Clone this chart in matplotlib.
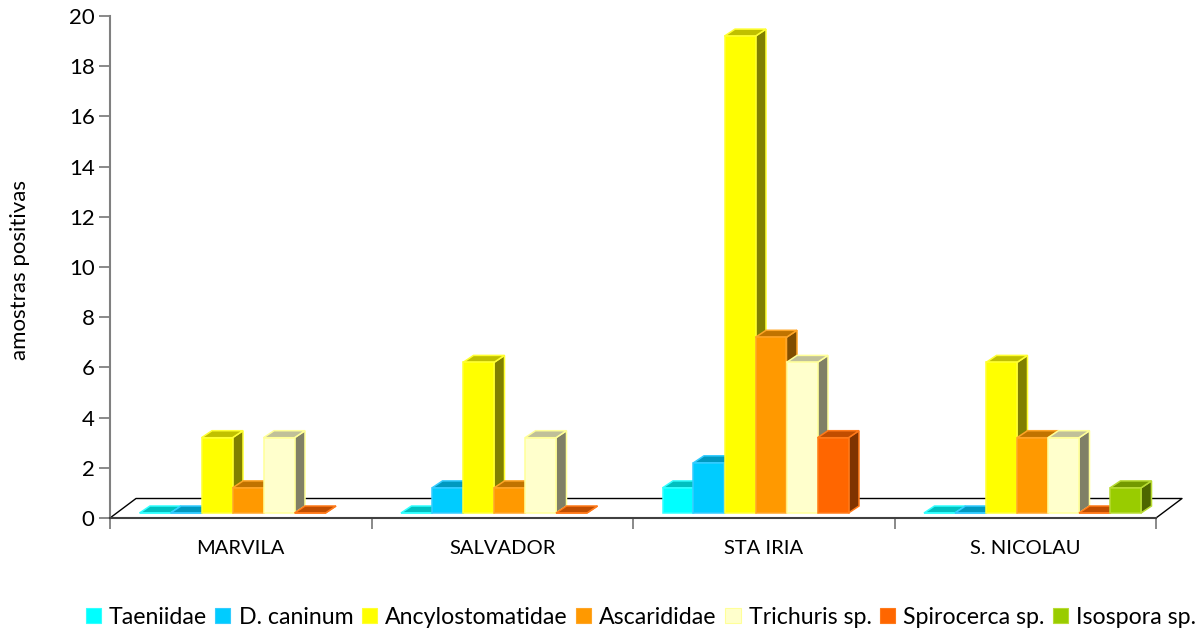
import numpy as np
import matplotlib
matplotlib.use("Agg")
import matplotlib.pyplot as plt
from matplotlib.patches import Polygon, Patch

plt.rcParams['font.family'] = ['Lato', 'DejaVu Sans']

sites = ["MARVILA", "SALVADOR", "STA IRIA", "S. NICOLAU"]
taxa = ["Taeniidae", "D. caninum", "Ancylostomatidae", "Ascarididae",
        "Trichuris sp.", "Spirocerca sp.", "Isospora sp."]
taeniidae = [0, 0, 1, 0]
d_caninum = [0, 1, 2, 0]
ancylostomatidae = [3, 6, 19, 6]
ascarididae = [1, 1, 7, 3]
trichuris = [3, 3, 6, 3]
spirocerca = [0, 0, 3, 0]
isospora = [np.nan, np.nan, np.nan, 1]
series = [taeniidae, d_caninum, ancylostomatidae, ascarididae,
          trichuris, spirocerca, isospora]
y_ticks = list(range(0, 21, 2))

front = ["#00FFFF", "#00CCFF", "#FFFF00", "#FF9900", "#FFFFCC", "#FF6600", "#99CC00"]
top = ["#00C0C0", "#0099C0", "#C0C000", "#C07300", "#C0C099", "#C04D00", "#739900"]
side = ["#008080", "#006680", "#808000", "#804D00", "#808066", "#803300", "#4D6600"]
edge = ["#33FFFF", "#33CCFF", "#FFFF33", "#FFA526", "#FFFF99", "#FF7A1A", "#B8DB33"]

W, H = 1203, 634
L, R, T, B = 110, 1156, 16, 518
fig = plt.figure(figsize=(W / 100, H / 100), dpi=100, facecolor="white")
ax = fig.add_axes([L / W, 1 - B / H, (R - L) / W, (B - T) / H])
ax.set_xlim(0, 4)
ax.set_ylim(0, 20)
ax.patch.set_visible(False)

# pixel lengths expressed in data units
px_x = 4 / (R - L)
px_y = 20 / (B - T)

# floor of the 3D box
floor_dx, floor_dy = 26 * px_x, 19.5 * px_y
ax.plot([0, floor_dx, 4 + floor_dx, 4], [0, floor_dy, floor_dy, 0],
        color="black", lw=1.0, clip_on=False, zorder=1)

bar_w = 31 * px_x
start = 29.5 * px_x
base = 5 * px_y
dx, dy = 10.5 * px_x, 7 * px_y

# each bar: front face, lid and right-hand side, painted left to right
z = 2
for g in range(len(sites)):
    for s, vals in enumerate(series):
        v = vals[g]
        if np.isnan(v):
            continue
        x0 = g + start + s * bar_w
        x1 = x0 + bar_w
        y1 = base + v
        faces = [
            ([(x1, base), (x1 + dx, base + dy), (x1 + dx, y1 + dy), (x1, y1)], side[s]),
            ([(x0, y1), (x1, y1), (x1 + dx, y1 + dy), (x0 + dx, y1 + dy)], top[s]),
            ([(x0, base), (x1, base), (x1, y1), (x0, y1)], front[s]),
        ]
        for pts, col in faces:
            ax.add_patch(Polygon(pts, closed=True, facecolor=col, edgecolor=edge[s],
                                 lw=1.1, joinstyle="miter", clip_on=False, zorder=z))
        z += 1

for spine in ("top", "right"):
    ax.spines[spine].set_visible(False)
ax.spines["left"].set_color("#808080")
ax.spines["left"].set_linewidth(1.5)
ax.spines["bottom"].set_color("#404040")
ax.spines["bottom"].set_linewidth(1.5)
ax.spines["bottom"].set_zorder(z + 1)

ax.set_yticks(y_ticks)
ax.tick_params(axis="y", length=8, width=1.3, color="#808080", labelsize=16,
               pad=3, labelcolor="black")
ax.set_xticks(range(5))
ax.set_xticklabels([])
ax.tick_params(axis="x", which="major", length=8, width=1.3, color="#808080")
ax.set_xticks(np.arange(4) + 0.5, labels=sites, minor=True)
ax.tick_params(axis="x", which="minor", length=0, pad=16, labelsize=14.5, labelcolor="black")

fig.text(20 / W, 1 - 270 / H, "amostras positivas", rotation=90, fontsize=16,
         ha="center", va="center", color="black")

handles = [Patch(facecolor=front[i], edgecolor=edge[i], lw=0.8, label=taxa[i])
           for i in range(len(taxa))]
fig.legend(handles=handles, ncols=7, loc="center", bbox_to_anchor=(641 / W, 1 - 617 / H),
           frameon=False, fontsize=16.7, handlelength=0.65, handleheight=0.65,
           handletextpad=0.35, columnspacing=0.37, borderpad=0, borderaxespad=0)

fig.savefig("out.png", dpi=100)
